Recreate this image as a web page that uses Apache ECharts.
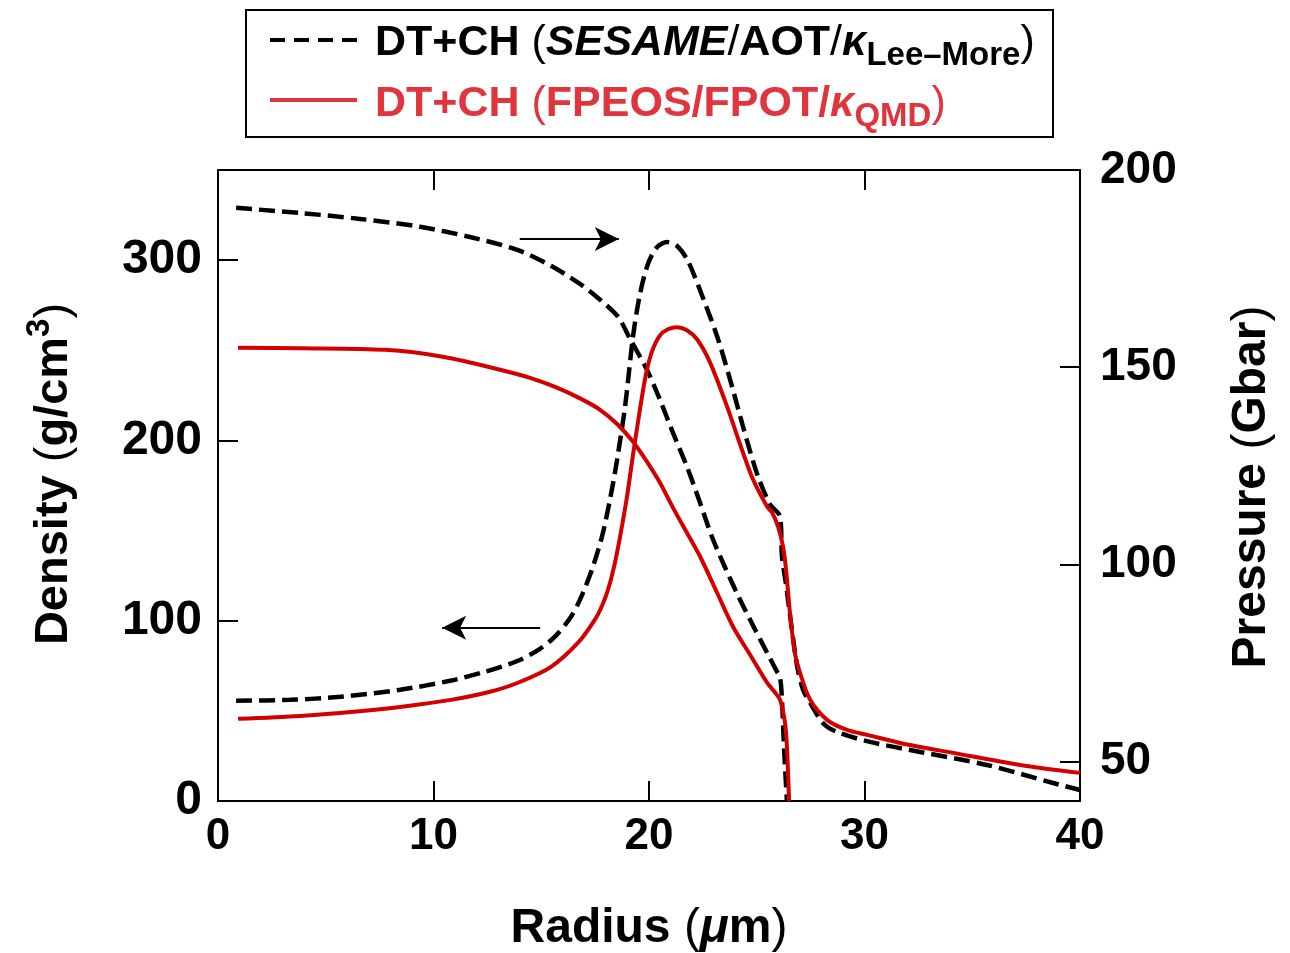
<!DOCTYPE html>
<html>
<head>
<meta charset="utf-8">
<script src="https://cdn.jsdelivr.net/npm/echarts@6/dist/echarts.min.js"></script>
<style>
  html, body { margin: 0; padding: 0; background: #fff; }
  #chart { width: 1290px; height: 953px; }
</style>
</head>
<body>
<div id="chart"></div>
<script>
// Axis tick values
const radiusTicks = [0, 10, 20, 30, 40];
const densityTicks = [0, 100, 200, 300];
const pressureTicks = [50, 100, 150, 200];

// DT+CH with SESAME / AOT / Lee-More opacity: density (g/cm^3) vs radius (um)
const sesameDensityR = [0.84, 3.34, 5.66, 8.45, 10.77, 12.39, 13.92, 14.94, 15.68, 16.38, 16.84, 17.35, 17.82, 18.19, 18.52, 18.89, 19.26, 19.58, 19.95, 20.37, 20.84, 21.3, 21.76, 22.13, 22.51, 23.16, 23.76, 24.36, 25.01, 25.62, 26.08, 26.17, 26.36, 26.54, 26.88, 27.15, 27.48, 28.07, 28.72, 30.26, 32.58, 35.68, 38.75, 40];
const sesameDensity  = [55.6, 56.1, 57.8, 61.7, 66.7, 71.7, 77.8, 84.4, 91.7, 102.2, 112.8, 128.3, 146.7, 167.2, 189.4, 218.9, 257.8, 281.1, 297.8, 307.2, 310, 307.8, 300.6, 290.6, 278.9, 257.8, 233.9, 207.8, 181.7, 164.4, 157.8, 135.6, 120, 103.3, 74.4, 61.7, 54.4, 43.3, 38.3, 32.8, 27.2, 20, 10, 6.1];

// DT+CH with SESAME / AOT / Lee-More opacity: pressure (Gbar) vs radius (um)
const sesamePressureR = [0.84, 3.81, 6.59, 9.37, 11.69, 13.92, 15.45, 16.8, 17.73, 18.56, 19.12, 19.91, 20.51, 21.11, 21.76, 22.37, 22.92, 23.53, 24.22, 24.92, 25.48, 25.94, 26.08, 26.17, 26.27, 26.4];
const sesamePressure  = [190.4, 189.1, 187.6, 185.6, 183.0, 179.7, 175.7, 171.1, 167.1, 162.8, 157.2, 149.3, 141.7, 133.4, 124.8, 115.6, 107.0, 99.2, 91.1, 83.5, 77.6, 72.8, 71.5, 65.7, 53.0, 40];

// DT+CH with FPEOS / FPOT / QMD opacity: density (g/cm^3) vs radius (um)
const fpeosDensityR = [0.93, 3.81, 6.17, 8.45, 10.81, 12.62, 13.92, 15.45, 16.71, 17.49, 17.82, 18.10, 18.38, 18.65, 18.98, 19.26, 19.58, 19.86, 20.14, 20.51, 20.88, 21.3, 21.76, 22.23, 22.83, 23.62, 24.36, 24.83, 25.48, 25.71, 25.99, 26.22, 26.36, 26.54, 26.77, 27.01, 27.48, 28.26, 29.19, 30.12, 31.65, 34.11, 37.22, 40];
const fpeosDensity  = [45.6, 47.2, 49.4, 52.2, 56.1, 60.6, 65.6, 74.4, 87.8, 100.6, 108.3, 117.2, 130, 146.1, 168.9, 192.2, 217.2, 236.7, 249.4, 258.3, 261.7, 262.8, 261.1, 256.1, 243.3, 218.9, 193.3, 178.3, 163.3, 160, 152.2, 141.1, 128.3, 104.4, 82.2, 71.1, 56.1, 45, 39.4, 36.7, 32.2, 26.7, 20, 15.6];

// DT+CH with FPEOS / FPOT / QMD opacity: pressure (Gbar) vs radius (um)
const fpeosPressureR = [0.93, 3.81, 7.75, 10.49, 13.13, 14.48, 15.64, 16.8, 17.73, 18.52, 19.26, 19.91, 20.51, 21.11, 21.76, 22.37, 23.16, 23.9, 24.69, 25.48, 25.85, 26.08, 26.31, 26.4, 26.5];
const fpeosPressure  = [154.9, 154.8, 154.4, 152.6, 149.3, 147.3, 145.0, 142.1, 139.2, 135.6, 131.1, 126.0, 120.7, 114.4, 108.0, 102.0, 92.8, 84.2, 77.1, 70.0, 67.5, 65.7, 59.9, 53.8, 40];

const FONT = '"Liberation Sans", Arial, Helvetica, sans-serif';
const BLACK = '#000000';
const RED = '#d40000';
const LEGEND_RED = '#e0353d';

const pairs = (xs, ys) => xs.map((x, i) => [x, ys[i]]);

// Text made of runs with mixed weight / style / size, laid out on a common baseline
const measureCtx = document.createElement('canvas').getContext('2d');
function fontString(r) {
  return (r.italic ? 'italic ' : 'normal ') + (r.bold === false ? 'normal ' : 'bold ') + r.size + 'px ' + FONT;
}
function textRuns(list, fill) {
  let x = 0;
  const children = [];
  list.forEach(r => {
    measureCtx.font = fontString(r);
    measureCtx.textBaseline = 'middle';
    const baseOffset = measureCtx.measureText('H').actualBoundingBoxDescent;
    children.push({
      type: 'text',
      x: x,
      y: (r.dy || 0) - baseOffset,
      silent: true,
      style: {
        text: r.t,
        fill: r.fill || fill,
        fontSize: r.size,
        fontWeight: r.bold === false ? 'normal' : 'bold',
        fontStyle: r.italic ? 'italic' : 'normal',
        fontFamily: FONT,
        align: 'left',
        verticalAlign: 'middle'
      }
    });
    x += measureCtx.measureText(r.t).width;
  });
  return { children, width: x };
}

const legendRow1 = textRuns([
  { t: 'DT+CH ', size: 43 },
  { t: '(', size: 43, bold: false },
  { t: 'SESAME', size: 43, italic: true },
  { t: '/', size: 43, bold: false },
  { t: 'AOT', size: 43 },
  { t: '/', size: 43, bold: false },
  { t: 'κ', size: 43, italic: true },
  { t: 'Lee–More', size: 33, dy: 10 },
  { t: ')', size: 43, bold: false }
], BLACK);
const legendRow2 = textRuns([
  { t: 'DT+CH ', size: 43 },
  { t: '(', size: 43, bold: false },
  { t: 'FPEOS/FPOT/', size: 43 },
  { t: 'κ', size: 43, italic: true },
  { t: 'QMD', size: 33, dy: 10 },
  { t: ')', size: 43, bold: false }
], LEGEND_RED);

const xTitle = textRuns([
  { t: 'Radius ', size: 48 },
  { t: '(', size: 48, bold: false },
  { t: 'μ', size: 48, italic: true },
  { t: 'm', size: 48 },
  { t: ')', size: 48, bold: false }
], BLACK);
const yTitleLeft = textRuns([
  { t: 'Density ', size: 47 },
  { t: '(', size: 47, bold: false },
  { t: 'g/cm', size: 47 },
  { t: '3', size: 33, dy: -18 },
  { t: ')', size: 47, bold: false }
], BLACK);
const yTitleRight = textRuns([
  { t: 'Pressure ', size: 48 },
  { t: '(', size: 48, bold: false },
  { t: 'Gbar', size: 48 },
  { t: ')', size: 48, bold: false }
], BLACK);

const chart = echarts.init(document.getElementById('chart'), null, { renderer: 'canvas' });

const axisLineStyle = { color: BLACK, width: 2 };
const labelStyle = { color: BLACK, fontWeight: 'bold', fontFamily: FONT };

const option = {
  animation: false,
  backgroundColor: '#ffffff',
  grid: { left: 218, right: 210, top: 170, bottom: 152, show: false, containLabel: false },
  xAxis: [
    {
      type: 'value', min: 0, max: 40, interval: 10, position: 'bottom',
      axisLine: { show: true, onZero: false, lineStyle: axisLineStyle },
      axisTick: { show: true, inside: true, length: 20, lineStyle: axisLineStyle, customValues: radiusTicks },
      axisLabel: Object.assign({ fontSize: 44, margin: 14, customValues: radiusTicks }, labelStyle),
      splitLine: { show: false }
    },
    {
      type: 'value', min: 0, max: 40, interval: 10, position: 'top',
      axisLine: { show: true, onZero: false, lineStyle: axisLineStyle },
      axisTick: { show: true, inside: true, length: 20, lineStyle: axisLineStyle, customValues: radiusTicks },
      axisLabel: { show: false },
      splitLine: { show: false }
    }
  ],
  yAxis: [
    {
      type: 'value', min: 0, max: 350, position: 'left',
      axisLine: { show: true, onZero: false, lineStyle: axisLineStyle },
      axisTick: { show: true, inside: true, length: 20, lineStyle: axisLineStyle, customValues: densityTicks },
      axisLabel: Object.assign({ fontSize: 48, margin: 16, customValues: densityTicks }, labelStyle),
      splitLine: { show: false }
    },
    {
      type: 'value', min: 40, max: 200, position: 'right',
      axisLine: { show: true, onZero: false, lineStyle: axisLineStyle },
      axisTick: { show: true, inside: true, length: 20, lineStyle: axisLineStyle, customValues: pressureTicks },
      axisLabel: Object.assign({ fontSize: 46, margin: 20, customValues: pressureTicks }, labelStyle),
      splitLine: { show: false }
    }
  ],
  series: [
    {
      name: 'SESAME density', type: 'line', xAxisIndex: 0, yAxisIndex: 0,
      data: pairs(sesameDensityR, sesameDensity),
      symbol: 'none', smooth: 0.3, clip: true, z: 2,
      lineStyle: { color: BLACK, width: 4.5, type: [16, 7] },
      emphasis: { disabled: true },
      markLine: {
        silent: true, animation: false,
        symbol: ['none', 'arrow'], symbolSize: [18, 24],
        label: { show: false },
        lineStyle: { color: BLACK, width: 2, type: 'solid' },
        emphasis: { disabled: true },
        data: [
          [{ coord: [14.0, 311.7] }, { coord: [18.6, 311.7] }],
          [{ coord: [14.95, 96.1] }, { coord: [10.4, 96.1] }]
        ]
      }
    },
    {
      name: 'SESAME pressure', type: 'line', xAxisIndex: 0, yAxisIndex: 1,
      data: pairs(sesamePressureR, sesamePressure),
      symbol: 'none', smooth: 0.3, clip: true, z: 2,
      lineStyle: { color: BLACK, width: 4.5, type: [16, 7] },
      emphasis: { disabled: true }
    },
    {
      name: 'FPEOS density', type: 'line', xAxisIndex: 0, yAxisIndex: 0,
      data: pairs(fpeosDensityR, fpeosDensity),
      symbol: 'none', smooth: 0.3, clip: true, z: 3,
      lineStyle: { color: RED, width: 4 },
      emphasis: { disabled: true }
    },
    {
      name: 'FPEOS pressure', type: 'line', xAxisIndex: 0, yAxisIndex: 1,
      data: pairs(fpeosPressureR, fpeosPressure),
      symbol: 'none', smooth: 0.3, clip: true, z: 3,
      lineStyle: { color: RED, width: 4 },
      emphasis: { disabled: true }
    }
  ],
  graphic: [
    // legend box
    { type: 'rect', silent: true, shape: { x: 246, y: 10, width: 807, height: 127 },
      style: { fill: '#ffffff', stroke: BLACK, lineWidth: 2 } },
    { type: 'line', silent: true, shape: { x1: 270, y1: 40, x2: 357, y2: 40 },
      style: { stroke: BLACK, lineWidth: 4, lineDash: [15, 9] } },
    { type: 'line', silent: true, shape: { x1: 270, y1: 100, x2: 357, y2: 100 },
      style: { stroke: LEGEND_RED, lineWidth: 4 } },
    { type: 'group', x: 375, y: 55, children: legendRow1.children },
    { type: 'group', x: 375, y: 116, children: legendRow2.children },
    // axis titles
    { type: 'group', x: 649 - xTitle.width / 2, y: 942, children: xTitle.children },
    { type: 'group', x: 67, y: 474 + yTitleLeft.width / 2, rotation: Math.PI / 2, children: yTitleLeft.children },
    { type: 'group', x: 1265, y: 487 + yTitleRight.width / 2, rotation: Math.PI / 2, children: yTitleRight.children }
  ]
};

chart.setOption(option);
</script>
</body>
</html>
